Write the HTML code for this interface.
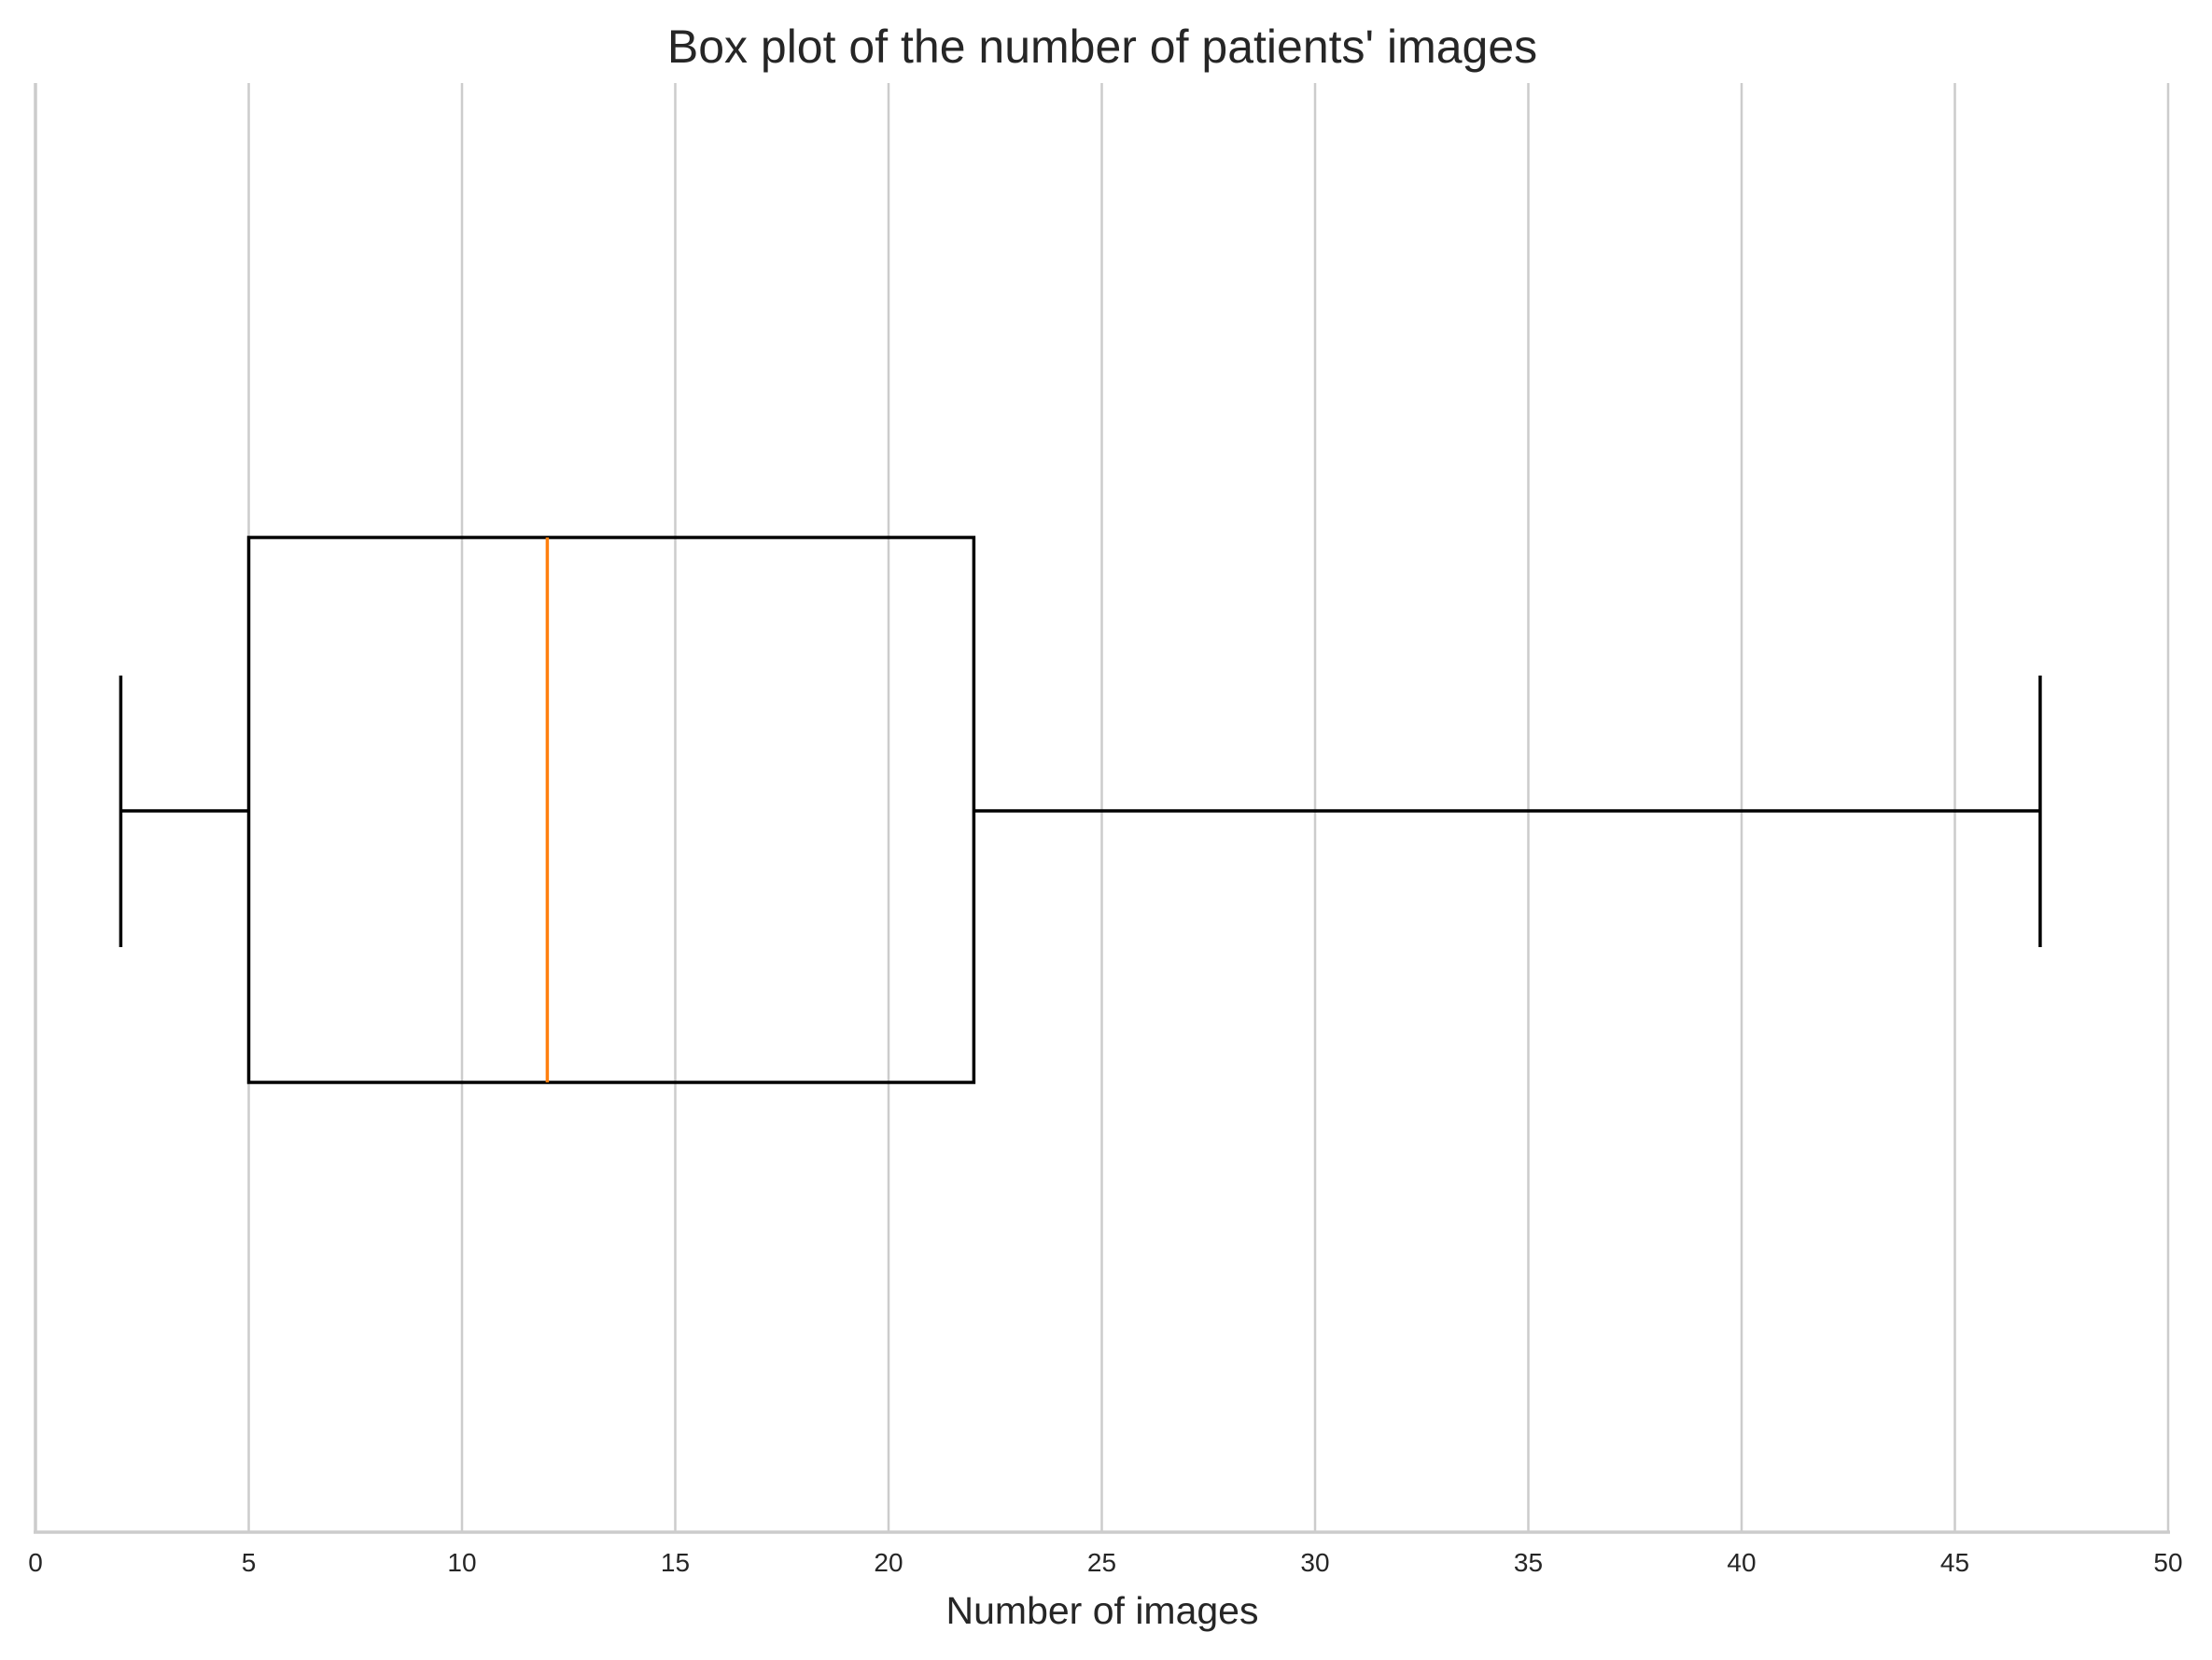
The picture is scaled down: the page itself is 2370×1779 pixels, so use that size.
<!DOCTYPE html>
<html><head><meta charset="utf-8"><style>
body{margin:0;background:#fff;}
svg text{font-family:"Liberation Sans",Arial,sans-serif;fill:#262626;}
</style></head><body>
<svg id="chart" width="2370" height="1774" viewBox="0 0 2370 1774" xmlns="http://www.w3.org/2000/svg">
<text x="1181" y="67" font-size="50" text-anchor="middle">Box plot of the number of patients' images</text>
<g id="grid"></g>
<g id="ticks"></g>
<line x1="36" x2="2325" y1="1642" y2="1642" stroke="#cccccc" stroke-width="3.5"/>
<line x1="38" x2="38" y1="89" y2="1642" stroke="#cccccc" stroke-width="3.5"/>
<g id="box"></g>
<text x="1181" y="1740" font-size="41" text-anchor="middle">Number of images</text>
</svg>
<script>
const tickValues=[0,5,10,15,20,25,30,35,40,45,50];
const tickLabels=["0","5","10","15","20","25","30","35","40","45","50"];
const whiskerLow=[2];
const quartile1=[5];
const medianVal=[12];
const quartile3=[22];
const whiskerHigh=[47];
const NS="http://www.w3.org/2000/svg";
const X0=38,X1=2323,XMIN=0,XMAX=50;
function xs(v){return X0+(v-XMIN)/(XMAX-XMIN)*(X1-X0);}
function mk(tag,attrs,parent){const e=document.createElementNS(NS,tag);for(const k in attrs)e.setAttribute(k,attrs[k]);parent.appendChild(e);return e;}
const grid=document.getElementById('grid'),ticks=document.getElementById('ticks'),box=document.getElementById('box');
tickValues.forEach((v,i)=>{
  const g=mk('line',{x1:xs(v),x2:xs(v),y1:89,y2:1642,stroke:'#cccccc','stroke-width':2.5},grid);
  
  
  const t=mk('text',{x:xs(v),y:1684,'font-size':28,'text-anchor':'middle'},ticks);
  t.textContent=tickLabels[i];
  
  
});
const yTop=576,yBot=1160,yMid=869,capT=724,capB=1015;
const sw=3.5;
const r=mk('rect',{x:xs(quartile1[0]),y:yTop,width:xs(quartile3[0])-xs(quartile1[0]),height:yBot-yTop,fill:'none',stroke:'#000','stroke-width':sw},box);


const wl=mk('line',{x1:xs(whiskerLow[0]),x2:xs(quartile1[0]),y1:yMid,y2:yMid,stroke:'#000','stroke-width':sw},box);


const wh=mk('line',{x1:xs(quartile3[0]),x2:xs(whiskerHigh[0]),y1:yMid,y2:yMid,stroke:'#000','stroke-width':sw},box);


const cl=mk('line',{x1:xs(whiskerLow[0]),x2:xs(whiskerLow[0]),y1:capT,y2:capB,stroke:'#000','stroke-width':sw},box);


const ch=mk('line',{x1:xs(whiskerHigh[0]),x2:xs(whiskerHigh[0]),y1:capT,y2:capB,stroke:'#000','stroke-width':sw},box);


const md=mk('line',{x1:xs(medianVal[0]),x2:xs(medianVal[0]),y1:yTop,y2:yBot,stroke:'#ff7f0e','stroke-width':sw},box);


</script>
</body></html>
